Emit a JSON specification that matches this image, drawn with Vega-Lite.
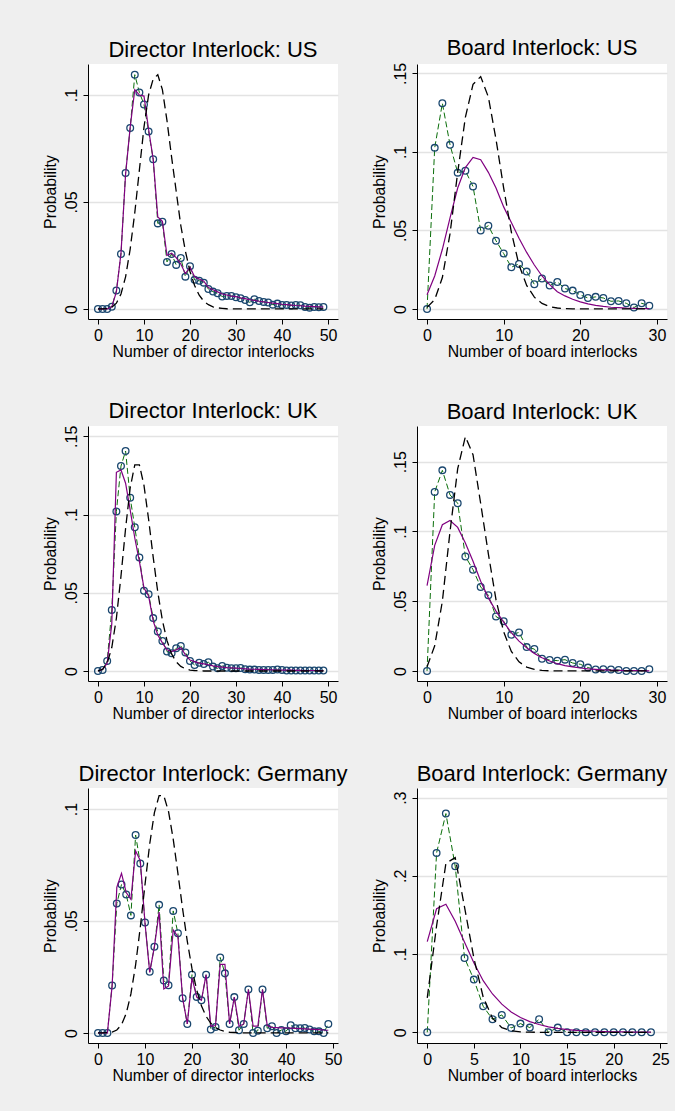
{
"$schema": "https://vega.github.io/schema/vega-lite/v6.json",
"background": "#efefef",
"padding": {"left": 41, "top": 37, "right": 5, "bottom": 28},
"config": {
 "font": "Liberation Sans",
 "view": {"stroke": null, "fill": "white"},
 "axis": {"domainColor": "black", "domainWidth": 1, "tickColor": "black", "tickWidth": 1, "tickSize": 5, "labelFontSize": 16, "labelColor": "black", "titleFontSize": 15.8, "titleFontWeight": "normal", "titleColor": "black", "labelFlush": false, "labelOverlap": false},
 "axisX": {"grid": false, "labelPadding": 3, "titlePadding": 1},
 "axisY": {"grid": true, "gridColor": "#e3e3e3", "gridWidth": 1.3, "labelAngle": 270, "labelAlign": "center", "labelBaseline": "alphabetic", "labelPadding": 7, "titlePadding": 5, "labelExpr": "datum.value == 0 ? '0' : replace(toString(datum.value), '0.', '.')"},
 "title": {"fontSize": 22, "fontWeight": "normal", "color": "black", "anchor": "middle", "frame": "group", "baseline": "alphabetic", "offset": 2}
},
"datasets": {
 "dir_us": [
  {"n":0,"obs":0,"fit":0,"pois":0},{"n":1,"obs":0,"fit":0,"pois":0},{"n":2,"obs":0,"fit":0,"pois":0.0002},{"n":3,"obs":0.001,"fit":0.001,"pois":0.0008},{"n":4,"obs":0.0086,"fit":0.008,"pois":0.0027},
  {"n":5,"obs":0.0257,"fit":0.026,"pois":0.007},{"n":6,"obs":0.0636,"fit":0.063,"pois":0.015},{"n":7,"obs":0.0846,"fit":0.085,"pois":0.028},{"n":8,"obs":0.1095,"fit":0.1025,"pois":0.045},{"n":9,"obs":0.1012,"fit":0.1,"pois":0.065},
  {"n":10,"obs":0.0956,"fit":0.0995,"pois":0.085},{"n":11,"obs":0.083,"fit":0.084,"pois":0.1},{"n":12,"obs":0.07,"fit":0.07,"pois":0.1075},{"n":13,"obs":0.04,"fit":0.043,"pois":0.1095},{"n":14,"obs":0.0408,"fit":0.041,"pois":0.1025},
  {"n":15,"obs":0.022,"fit":0.025,"pois":0.088},{"n":16,"obs":0.0257,"fit":0.026,"pois":0.071},{"n":17,"obs":0.0206,"fit":0.024,"pois":0.055},{"n":18,"obs":0.0238,"fit":0.021,"pois":0.039},{"n":19,"obs":0.0151,"fit":0.0165,"pois":0.027},
  {"n":20,"obs":0.02,"fit":0.0195,"pois":0.0175},{"n":21,"obs":0.0136,"fit":0.015,"pois":0.011},{"n":22,"obs":0.0132,"fit":0.014,"pois":0.0064},{"n":23,"obs":0.0123,"fit":0.013,"pois":0.0036},{"n":24,"obs":0.0093,"fit":0.01,"pois":0.002},
  {"n":25,"obs":0.0081,"fit":0.009,"pois":0.001},{"n":26,"obs":0.0073,"fit":0.008,"pois":0.0005},{"n":27,"obs":0.0058,"fit":0.007,"pois":0.0003},{"n":28,"obs":0.0061,"fit":0.0065,"pois":0.0001},{"n":29,"obs":0.0061,"fit":0.006,"pois":0},
  {"n":30,"obs":0.0055,"fit":0.0058,"pois":0},{"n":31,"obs":0.005,"fit":0.0052,"pois":0},{"n":32,"obs":0.0042,"fit":0.0048,"pois":0},{"n":33,"obs":0.0031,"fit":0.0043,"pois":0},{"n":34,"obs":0.0045,"fit":0.004,"pois":0},
  {"n":35,"obs":0.0037,"fit":0.0036,"pois":0},{"n":36,"obs":0.0033,"fit":0.0033,"pois":0},{"n":37,"obs":0.003,"fit":0.003,"pois":0},{"n":38,"obs":0.002,"fit":0.0027,"pois":0},{"n":39,"obs":0.0025,"fit":0.0025,"pois":0},
  {"n":40,"obs":0.0019,"fit":0.0022,"pois":0},{"n":41,"obs":0.0019,"fit":0.002,"pois":0},{"n":42,"obs":0.0016,"fit":0.0018,"pois":0},{"n":43,"obs":0.0019,"fit":0.0016,"pois":0},{"n":44,"obs":0.0017,"fit":0.0015,"pois":0},
  {"n":45,"obs":0.0009,"fit":0.0013,"pois":0},{"n":46,"obs":0.0006,"fit":0.0012,"pois":0},{"n":47,"obs":0.0009,"fit":0.0011,"pois":0},{"n":48,"obs":0.0008,"fit":0.001,"pois":0},{"n":49,"obs":0.0009,"fit":0.0009,"pois":0}
 ],
 "brd_us": [
  {"n":0,"obs":0,"fit":0.009,"pois":0.001},{"n":1,"obs":0.1026,"fit":0.021,"pois":0.006},{"n":2,"obs":0.131,"fit":0.038,"pois":0.02},{"n":3,"obs":0.1045,"fit":0.058,"pois":0.048},{"n":4,"obs":0.0868,"fit":0.077,"pois":0.087},
  {"n":5,"obs":0.088,"fit":0.09,"pois":0.122},{"n":6,"obs":0.078,"fit":0.0965,"pois":0.143},{"n":7,"obs":0.05,"fit":0.095,"pois":0.148},{"n":8,"obs":0.053,"fit":0.087,"pois":0.135},{"n":9,"obs":0.0434,"fit":0.077,"pois":0.108},
  {"n":10,"obs":0.0353,"fit":0.065,"pois":0.077},{"n":11,"obs":0.0266,"fit":0.055,"pois":0.049},{"n":12,"obs":0.0287,"fit":0.045,"pois":0.028},{"n":13,"obs":0.0238,"fit":0.036,"pois":0.015},{"n":14,"obs":0.0157,"fit":0.028,"pois":0.0075},
  {"n":15,"obs":0.0194,"fit":0.021,"pois":0.0035},{"n":16,"obs":0.0149,"fit":0.0155,"pois":0.0015},{"n":17,"obs":0.0172,"fit":0.011,"pois":0.0006},{"n":18,"obs":0.013,"fit":0.0083,"pois":0.0002},{"n":19,"obs":0.0117,"fit":0.0062,"pois":0.0001},
  {"n":20,"obs":0.0089,"fit":0.0045,"pois":0},{"n":21,"obs":0.007,"fit":0.0032,"pois":0},{"n":22,"obs":0.0077,"fit":0.0023,"pois":0},{"n":23,"obs":0.007,"fit":0.0016,"pois":0},{"n":24,"obs":0.0049,"fit":0.0011,"pois":0},
  {"n":25,"obs":0.0051,"fit":0.0008,"pois":0},{"n":26,"obs":0.0036,"fit":0.0005,"pois":0},{"n":27,"obs":0.0009,"fit":0.0004,"pois":0},{"n":28,"obs":0.0036,"fit":0.0003,"pois":0},{"n":29,"obs":0.0021,"fit":0.0002,"pois":0}
 ],
 "dir_uk": [
  {"n":0,"obs":0,"fit":0,"pois":0.0001},{"n":1,"obs":0.0006,"fit":0.001,"pois":0.0011},{"n":2,"obs":0.0064,"fit":0.005,"pois":0.005},{"n":3,"obs":0.039,"fit":0.03,"pois":0.015},{"n":4,"obs":0.102,"fit":0.127,"pois":0.0337},
  {"n":5,"obs":0.131,"fit":0.1285,"pois":0.0607},{"n":6,"obs":0.1406,"fit":0.12,"pois":0.0911},{"n":7,"obs":0.1107,"fit":0.103,"pois":0.1171},{"n":8,"obs":0.0919,"fit":0.085,"pois":0.1318},{"n":9,"obs":0.0726,"fit":0.07,"pois":0.1318},
  {"n":10,"obs":0.0513,"fit":0.053,"pois":0.1186},{"n":11,"obs":0.0491,"fit":0.048,"pois":0.097},{"n":12,"obs":0.0338,"fit":0.032,"pois":0.0728},{"n":13,"obs":0.0252,"fit":0.023,"pois":0.0504},{"n":14,"obs":0.0192,"fit":0.018,"pois":0.0324},
  {"n":15,"obs":0.0124,"fit":0.0135,"pois":0.0194},{"n":16,"obs":0.0113,"fit":0.0124,"pois":0.0109},{"n":17,"obs":0.0145,"fit":0.0135,"pois":0.0058},{"n":18,"obs":0.016,"fit":0.015,"pois":0.0029},{"n":19,"obs":0.0118,"fit":0.0103,"pois":0.0014},
  {"n":20,"obs":0.0064,"fit":0.007,"pois":0.0006},{"n":21,"obs":0.0038,"fit":0.006,"pois":0.0003},{"n":22,"obs":0.0053,"fit":0.005,"pois":0.0001},{"n":23,"obs":0.0045,"fit":0.0045,"pois":0},{"n":24,"obs":0.0056,"fit":0.004,"pois":0},
  {"n":25,"obs":0.0028,"fit":0.0033,"pois":0},{"n":26,"obs":0.0017,"fit":0.0028,"pois":0},{"n":27,"obs":0.0032,"fit":0.0025,"pois":0},{"n":28,"obs":0.0021,"fit":0.0022,"pois":0},{"n":29,"obs":0.0017,"fit":0.002,"pois":0},
  {"n":30,"obs":0.0017,"fit":0.0018,"pois":0},{"n":31,"obs":0.0019,"fit":0.0016,"pois":0},{"n":32,"obs":0.0011,"fit":0.0014,"pois":0},{"n":33,"obs":0.0009,"fit":0.0012,"pois":0},{"n":34,"obs":0.0009,"fit":0.0011,"pois":0},
  {"n":35,"obs":0.0007,"fit":0.001,"pois":0},{"n":36,"obs":0.0007,"fit":0.0009,"pois":0},{"n":37,"obs":0.0007,"fit":0.0008,"pois":0},{"n":38,"obs":0.0007,"fit":0.0007,"pois":0},{"n":39,"obs":0.001,"fit":0.0006,"pois":0},
  {"n":40,"obs":0.0007,"fit":0.0006,"pois":0},{"n":41,"obs":0.0003,"fit":0.0005,"pois":0},{"n":42,"obs":0.0003,"fit":0.0005,"pois":0},{"n":43,"obs":0.0003,"fit":0.0004,"pois":0},{"n":44,"obs":0.0003,"fit":0.0004,"pois":0},
  {"n":45,"obs":0.0003,"fit":0.0003,"pois":0},{"n":46,"obs":0.0003,"fit":0.0003,"pois":0},{"n":47,"obs":0.0003,"fit":0.0003,"pois":0},{"n":48,"obs":0.0003,"fit":0.0002,"pois":0},{"n":49,"obs":0.0003,"fit":0.0002,"pois":0}
 ],
 "brd_uk": [
  {"n":0,"obs":0,"fit":0.0612,"pois":0.003},{"n":1,"obs":0.1283,"fit":0.09,"pois":0.018},{"n":2,"obs":0.1438,"fit":0.1048,"pois":0.05},{"n":3,"obs":0.1262,"fit":0.1079,"pois":0.1},{"n":4,"obs":0.1202,"fit":0.1029,"pois":0.145},
  {"n":5,"obs":0.0821,"fit":0.0917,"pois":0.168},{"n":6,"obs":0.0726,"fit":0.0786,"pois":0.155},{"n":7,"obs":0.0602,"fit":0.0643,"pois":0.12},{"n":8,"obs":0.0543,"fit":0.0524,"pois":0.084},{"n":9,"obs":0.039,"fit":0.0429,"pois":0.051},
  {"n":10,"obs":0.0357,"fit":0.035,"pois":0.028},{"n":11,"obs":0.026,"fit":0.0274,"pois":0.014},{"n":12,"obs":0.0276,"fit":0.0214,"pois":0.0065},{"n":13,"obs":0.0171,"fit":0.0167,"pois":0.0028},{"n":14,"obs":0.0157,"fit":0.0126,"pois":0.0011},
  {"n":15,"obs":0.0088,"fit":0.0095,"pois":0.0004},{"n":16,"obs":0.0079,"fit":0.0071,"pois":0.0001},{"n":17,"obs":0.0074,"fit":0.0052,"pois":0},{"n":18,"obs":0.0081,"fit":0.0038,"pois":0},{"n":19,"obs":0.0057,"fit":0.0029,"pois":0},
  {"n":20,"obs":0.0048,"fit":0.0021,"pois":0},{"n":21,"obs":0.0024,"fit":0.0015,"pois":0},{"n":22,"obs":0.001,"fit":0.0011,"pois":0},{"n":23,"obs":0.0012,"fit":0.0008,"pois":0},{"n":24,"obs":0.001,"fit":0.0006,"pois":0},
  {"n":25,"obs":0.0007,"fit":0.0004,"pois":0},{"n":26,"obs":0,"fit":0.0003,"pois":0},{"n":27,"obs":0,"fit":0.0002,"pois":0},{"n":28,"obs":0,"fit":0.0002,"pois":0},{"n":29,"obs":0.0012,"fit":0.0001,"pois":0}
 ],
 "dir_de": [
  {"n":0,"obs":0,"fit":0,"pois":0},{"n":1,"obs":0,"fit":0,"pois":0},{"n":2,"obs":0,"fit":0,"pois":0.0001},{"n":3,"obs":0.0212,"fit":0.021,"pois":0.0004},{"n":4,"obs":0.0578,"fit":0.065,"pois":0.0013},
  {"n":5,"obs":0.0663,"fit":0.0713,"pois":0.0037},{"n":6,"obs":0.0618,"fit":0.0627,"pois":0.0087},{"n":7,"obs":0.0525,"fit":0.0597,"pois":0.0174},{"n":8,"obs":0.0884,"fit":0.0813,"pois":0.0304},{"n":9,"obs":0.0757,"fit":0.077,"pois":0.0473},
  {"n":10,"obs":0.0493,"fit":0.049,"pois":0.0663},{"n":11,"obs":0.0273,"fit":0.027,"pois":0.0844},{"n":12,"obs":0.0385,"fit":0.0385,"pois":0.0984},{"n":13,"obs":0.0572,"fit":0.054,"pois":0.106},{"n":14,"obs":0.0234,"fit":0.0196,"pois":0.106},
  {"n":15,"obs":0.0213,"fit":0.021,"pois":0.0989},{"n":16,"obs":0.0545,"fit":0.046,"pois":0.0866},{"n":17,"obs":0.0445,"fit":0.043,"pois":0.0713},{"n":18,"obs":0.0155,"fit":0.0155,"pois":0.0554},{"n":19,"obs":0.004,"fit":0.004,"pois":0.0409},
  {"n":20,"obs":0.026,"fit":0.0246,"pois":0.0286},{"n":21,"obs":0.0161,"fit":0.016,"pois":0.0191},{"n":22,"obs":0.0146,"fit":0.0146,"pois":0.0121},{"n":23,"obs":0.026,"fit":0.026,"pois":0.0074},{"n":24,"obs":0.0015,"fit":0.003,"pois":0.0043},
  {"n":25,"obs":0.0027,"fit":0.0033,"pois":0.0024},{"n":26,"obs":0.0337,"fit":0.0306,"pois":0.0013},{"n":27,"obs":0.0266,"fit":0.0306,"pois":0.0007},{"n":28,"obs":0.004,"fit":0.004,"pois":0.0003},{"n":29,"obs":0.016,"fit":0.016,"pois":0.0002},
  {"n":30,"obs":0.0012,"fit":0.003,"pois":0.0001},{"n":31,"obs":0.004,"fit":0.004,"pois":0},{"n":32,"obs":0.0194,"fit":0.0194,"pois":0},{"n":33,"obs":0,"fit":0.003,"pois":0},{"n":34,"obs":0.001,"fit":0.003,"pois":0},
  {"n":35,"obs":0.0194,"fit":0.0194,"pois":0},{"n":36,"obs":0.0021,"fit":0.0033,"pois":0},{"n":37,"obs":0.003,"fit":0.0025,"pois":0},{"n":38,"obs":0,"fit":0.0024,"pois":0},{"n":39,"obs":0.0013,"fit":0.0023,"pois":0},
  {"n":40,"obs":0.0007,"fit":0.0022,"pois":0},{"n":41,"obs":0.0034,"fit":0.0021,"pois":0},{"n":42,"obs":0.0021,"fit":0.002,"pois":0},{"n":43,"obs":0.0021,"fit":0.0019,"pois":0},{"n":44,"obs":0.0022,"fit":0.0018,"pois":0},
  {"n":45,"obs":0.0015,"fit":0.0017,"pois":0},{"n":46,"obs":0.0007,"fit":0.0016,"pois":0},{"n":47,"obs":0.0007,"fit":0.0015,"pois":0},{"n":48,"obs":0,"fit":0.0013,"pois":0},{"n":49,"obs":0.004,"fit":0.0012,"pois":0}
 ],
 "brd_de": [
  {"n":0,"obs":0,"fit":0.116,"pois":0.044},{"n":1,"obs":0.2294,"fit":0.158,"pois":0.136},{"n":2,"obs":0.2797,"fit":0.1638,"pois":0.216},{"n":3,"obs":0.2124,"fit":0.142,"pois":0.2234},{"n":4,"obs":0.0951,"fit":0.115,"pois":0.16},
  {"n":5,"obs":0.0674,"fit":0.089,"pois":0.095},{"n":6,"obs":0.0333,"fit":0.066,"pois":0.045},{"n":7,"obs":0.0166,"fit":0.049,"pois":0.018},{"n":8,"obs":0.0222,"fit":0.036,"pois":0.006},{"n":9,"obs":0.0055,"fit":0.026,"pois":0.002},
  {"n":10,"obs":0.0111,"fit":0.019,"pois":0.0005},{"n":11,"obs":0.006,"fit":0.0136,"pois":0.0001},{"n":12,"obs":0.0166,"fit":0.01,"pois":0},{"n":13,"obs":0,"fit":0.007,"pois":0},{"n":14,"obs":0.006,"fit":0.005,"pois":0},
  {"n":15,"obs":0,"fit":0.0035,"pois":0},{"n":16,"obs":0,"fit":0.0025,"pois":0},{"n":17,"obs":0,"fit":0.0018,"pois":0},{"n":18,"obs":0,"fit":0.0013,"pois":0},{"n":19,"obs":0,"fit":0.0009,"pois":0},
  {"n":20,"obs":0,"fit":0.0006,"pois":0},{"n":21,"obs":0,"fit":0.0004,"pois":0},{"n":22,"obs":0,"fit":0.0003,"pois":0},{"n":23,"obs":0,"fit":0.0002,"pois":0},{"n":24,"obs":0,"fit":0.0001,"pois":0}
 ]
},
"columns": 2,
"spacing": {"row": 107, "column": 79},
"bounds": "flush",
"concat": [
 {"title": "Director Interlock: US", "width": 250, "height": 255, "data": {"name": "dir_us"},
  "encoding": {"x": {"field": "n", "type": "quantitative", "title": "Number of director interlocks", "scale": {"domain": [-2.17, 52.17], "nice": false, "zero": false}, "axis": {"values": [0,10,20,30,40,50]}}},
  "layer": [
   {"mark": {"type": "line", "color": "#0a6e0a", "strokeWidth": 1, "strokeDash": [6,3]}, "encoding": {"y": {"field": "obs", "type": "quantitative", "title": "Probability", "scale": {"domain": [-0.0047, 0.1145], "nice": false, "zero": false}, "axis": {"values": [0,0.05,0.1]}}}},
   {"mark": {"type": "point", "shape": "circle", "filled": false, "color": "#1a476f", "size": 45, "strokeWidth": 1.3, "opacity": 1}, "encoding": {"y": {"field": "obs", "type": "quantitative", "title": "Probability", "scale": {"domain": [-0.0047, 0.1145], "nice": false, "zero": false}, "axis": {"values": [0,0.05,0.1]}}}},
   {"mark": {"type": "line", "color": "#800080", "strokeWidth": 1.2}, "encoding": {"y": {"field": "fit", "type": "quantitative", "title": "Probability", "scale": {"domain": [-0.0047, 0.1145], "nice": false, "zero": false}, "axis": {"values": [0,0.05,0.1]}}}},
   {"mark": {"type": "line", "color": "black", "strokeWidth": 1.3, "strokeDash": [9,5]}, "encoding": {"y": {"field": "pois", "type": "quantitative", "title": "Probability", "scale": {"domain": [-0.0047, 0.1145], "nice": false, "zero": false}, "axis": {"values": [0,0.05,0.1]}}}}
  ]},
 {"title": "Board Interlock: US", "width": 250, "height": 255, "data": {"name": "brd_us"},
  "encoding": {"x": {"field": "n", "type": "quantitative", "title": "Number of board interlocks", "scale": {"domain": [-1.31, 31.31], "nice": false, "zero": false}, "axis": {"values": [0,10,20,30]}}},
  "layer": [
   {"mark": {"type": "line", "color": "#0a6e0a", "strokeWidth": 1, "strokeDash": [6,3]}, "encoding": {"y": {"field": "obs", "type": "quantitative", "title": "Probability", "scale": {"domain": [-0.0064, 0.156], "nice": false, "zero": false}, "axis": {"values": [0,0.05,0.1,0.15]}}}},
   {"mark": {"type": "point", "shape": "circle", "filled": false, "color": "#1a476f", "size": 45, "strokeWidth": 1.3, "opacity": 1}, "encoding": {"y": {"field": "obs", "type": "quantitative", "title": "Probability", "scale": {"domain": [-0.0064, 0.156], "nice": false, "zero": false}, "axis": {"values": [0,0.05,0.1,0.15]}}}},
   {"mark": {"type": "line", "color": "#800080", "strokeWidth": 1.2}, "encoding": {"y": {"field": "fit", "type": "quantitative", "title": "Probability", "scale": {"domain": [-0.0064, 0.156], "nice": false, "zero": false}, "axis": {"values": [0,0.05,0.1,0.15]}}}},
   {"mark": {"type": "line", "color": "black", "strokeWidth": 1.3, "strokeDash": [9,5]}, "encoding": {"y": {"field": "pois", "type": "quantitative", "title": "Probability", "scale": {"domain": [-0.0064, 0.156], "nice": false, "zero": false}, "axis": {"values": [0,0.05,0.1,0.15]}}}}
  ]},
 {"title": "Director Interlock: UK", "width": 250, "height": 255, "data": {"name": "dir_uk"},
  "encoding": {"x": {"field": "n", "type": "quantitative", "title": "Number of director interlocks", "scale": {"domain": [-2.17, 52.17], "nice": false, "zero": false}, "axis": {"values": [0,10,20,30,40,50]}}},
  "layer": [
   {"mark": {"type": "line", "color": "#0a6e0a", "strokeWidth": 1, "strokeDash": [6,3]}, "encoding": {"y": {"field": "obs", "type": "quantitative", "title": "Probability", "scale": {"domain": [-0.0064, 0.1566], "nice": false, "zero": false}, "axis": {"values": [0,0.05,0.1,0.15]}}}},
   {"mark": {"type": "point", "shape": "circle", "filled": false, "color": "#1a476f", "size": 45, "strokeWidth": 1.3, "opacity": 1}, "encoding": {"y": {"field": "obs", "type": "quantitative", "title": "Probability", "scale": {"domain": [-0.0064, 0.1566], "nice": false, "zero": false}, "axis": {"values": [0,0.05,0.1,0.15]}}}},
   {"mark": {"type": "line", "color": "#800080", "strokeWidth": 1.2}, "encoding": {"y": {"field": "fit", "type": "quantitative", "title": "Probability", "scale": {"domain": [-0.0064, 0.1566], "nice": false, "zero": false}, "axis": {"values": [0,0.05,0.1,0.15]}}}},
   {"mark": {"type": "line", "color": "black", "strokeWidth": 1.3, "strokeDash": [9,5]}, "encoding": {"y": {"field": "pois", "type": "quantitative", "title": "Probability", "scale": {"domain": [-0.0064, 0.1566], "nice": false, "zero": false}, "axis": {"values": [0,0.05,0.1,0.15]}}}}
  ]},
 {"title": "Board Interlock: UK", "width": 250, "height": 255, "data": {"name": "brd_uk"},
  "encoding": {"x": {"field": "n", "type": "quantitative", "title": "Number of board interlocks", "scale": {"domain": [-1.31, 31.31], "nice": false, "zero": false}, "axis": {"values": [0,10,20,30]}}},
  "layer": [
   {"mark": {"type": "line", "color": "#0a6e0a", "strokeWidth": 1, "strokeDash": [6,3]}, "encoding": {"y": {"field": "obs", "type": "quantitative", "title": "Probability", "scale": {"domain": [-0.0072, 0.1756], "nice": false, "zero": false}, "axis": {"values": [0,0.05,0.1,0.15]}}}},
   {"mark": {"type": "point", "shape": "circle", "filled": false, "color": "#1a476f", "size": 45, "strokeWidth": 1.3, "opacity": 1}, "encoding": {"y": {"field": "obs", "type": "quantitative", "title": "Probability", "scale": {"domain": [-0.0072, 0.1756], "nice": false, "zero": false}, "axis": {"values": [0,0.05,0.1,0.15]}}}},
   {"mark": {"type": "line", "color": "#800080", "strokeWidth": 1.2}, "encoding": {"y": {"field": "fit", "type": "quantitative", "title": "Probability", "scale": {"domain": [-0.0072, 0.1756], "nice": false, "zero": false}, "axis": {"values": [0,0.05,0.1,0.15]}}}},
   {"mark": {"type": "line", "color": "black", "strokeWidth": 1.3, "strokeDash": [9,5]}, "encoding": {"y": {"field": "pois", "type": "quantitative", "title": "Probability", "scale": {"domain": [-0.0072, 0.1756], "nice": false, "zero": false}, "axis": {"values": [0,0.05,0.1,0.15]}}}}
  ]},
 {"title": "Director Interlock: Germany", "width": 250, "height": 255, "data": {"name": "dir_de"},
  "encoding": {"x": {"field": "n", "type": "quantitative", "title": "Number of director interlocks", "scale": {"domain": [-2.13, 51.06], "nice": false, "zero": false}, "axis": {"values": [0,10,20,30,40,50]}}},
  "layer": [
   {"mark": {"type": "line", "color": "#0a6e0a", "strokeWidth": 1, "strokeDash": [6,3]}, "encoding": {"y": {"field": "obs", "type": "quantitative", "title": "Probability", "scale": {"domain": [-0.0045, 0.1094], "nice": false, "zero": false}, "axis": {"values": [0,0.05,0.1]}}}},
   {"mark": {"type": "point", "shape": "circle", "filled": false, "color": "#1a476f", "size": 45, "strokeWidth": 1.3, "opacity": 1}, "encoding": {"y": {"field": "obs", "type": "quantitative", "title": "Probability", "scale": {"domain": [-0.0045, 0.1094], "nice": false, "zero": false}, "axis": {"values": [0,0.05,0.1]}}}},
   {"mark": {"type": "line", "color": "#800080", "strokeWidth": 1.2}, "encoding": {"y": {"field": "fit", "type": "quantitative", "title": "Probability", "scale": {"domain": [-0.0045, 0.1094], "nice": false, "zero": false}, "axis": {"values": [0,0.05,0.1]}}}},
   {"mark": {"type": "line", "color": "black", "strokeWidth": 1.3, "strokeDash": [9,5]}, "encoding": {"y": {"field": "pois", "type": "quantitative", "title": "Probability", "scale": {"domain": [-0.0045, 0.1094], "nice": false, "zero": false}, "axis": {"values": [0,0.05,0.1]}}}}
  ]},
 {"title": "Board Interlock: Germany", "width": 250, "height": 255, "data": {"name": "brd_de"},
  "encoding": {"x": {"field": "n", "type": "quantitative", "title": "Number of board interlocks", "scale": {"domain": [-1.1, 25.72], "nice": false, "zero": false}, "axis": {"values": [0,5,10,15,20,25]}}},
  "layer": [
   {"mark": {"type": "line", "color": "#0a6e0a", "strokeWidth": 1, "strokeDash": [6,3]}, "encoding": {"y": {"field": "obs", "type": "quantitative", "title": "Probability", "scale": {"domain": [-0.0137, 0.3124], "nice": false, "zero": false}, "axis": {"values": [0,0.1,0.2,0.3]}}}},
   {"mark": {"type": "point", "shape": "circle", "filled": false, "color": "#1a476f", "size": 45, "strokeWidth": 1.3, "opacity": 1}, "encoding": {"y": {"field": "obs", "type": "quantitative", "title": "Probability", "scale": {"domain": [-0.0137, 0.3124], "nice": false, "zero": false}, "axis": {"values": [0,0.1,0.2,0.3]}}}},
   {"mark": {"type": "line", "color": "#800080", "strokeWidth": 1.2}, "encoding": {"y": {"field": "fit", "type": "quantitative", "title": "Probability", "scale": {"domain": [-0.0137, 0.3124], "nice": false, "zero": false}, "axis": {"values": [0,0.1,0.2,0.3]}}}},
   {"mark": {"type": "line", "color": "black", "strokeWidth": 1.3, "strokeDash": [9,5]}, "encoding": {"y": {"field": "pois", "type": "quantitative", "title": "Probability", "scale": {"domain": [-0.0137, 0.3124], "nice": false, "zero": false}, "axis": {"values": [0,0.1,0.2,0.3]}}}}
  ]}
]
}
